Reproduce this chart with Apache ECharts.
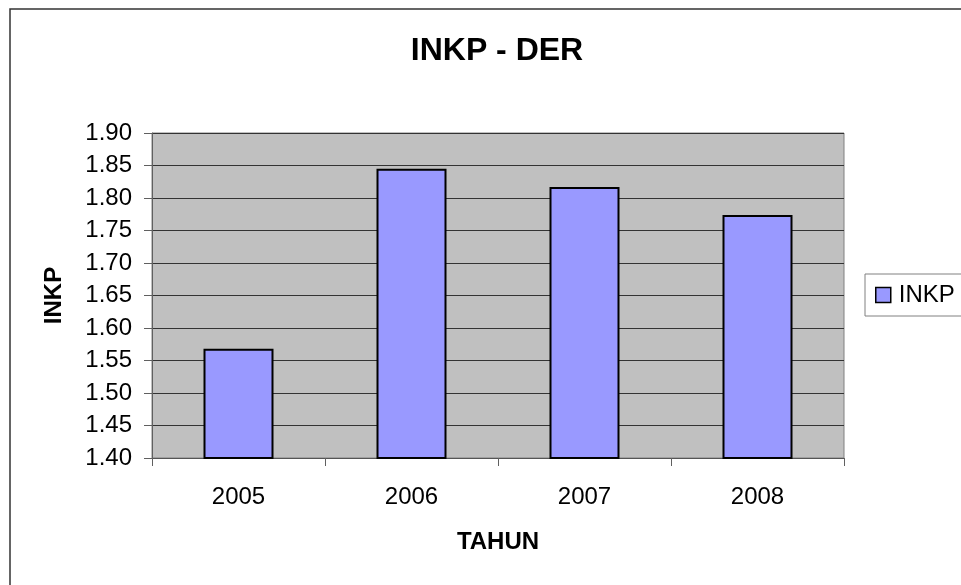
<!DOCTYPE html>
<html>
<head>
<meta charset="utf-8">
<title>INKP - DER</title>
<script src="https://cdn.jsdelivr.net/npm/echarts@6/dist/echarts.min.js"></script>
<style>
    html, body { margin: 0; padding: 0; background: #fff; }
    #chart { width: 961px; height: 585px; }
</style>
</head>
<body>
<div id="chart"></div>
<script>
var years = ['2005', '2006', '2007', '2008'];
var inkpValues = [1.568, 1.845, 1.817, 1.774];
var seriesName = 'INKP';

var font = '"Liberation Sans", Arial, sans-serif';

var chart = echarts.init(document.getElementById('chart'));

var option = {
    animation: false,
    backgroundColor: '#fff',
    textStyle: { fontFamily: font },
    title: {
        text: 'INKP - DER',
        left: 492,
        top: 30,
        textAlign: 'center',
        textStyle: { fontFamily: font, fontSize: 32, fontWeight: 'bold', color: '#000' }
    },
    graphic: [{
        type: 'rect',
        shape: { x: 10, y: 9, width: 1000, height: 1000 },
        style: { fill: 'none', stroke: '#333', lineWidth: 1.5 },
        silent: true
    }],
    legend: {
        data: [seriesName],
        left: 865,
        top: 274,
        orient: 'vertical',
        padding: [9, 12, 9, 10],
        borderColor: '#808080',
        borderWidth: 1,
        itemWidth: 15,
        itemHeight: 15,
        icon: 'rect',
        itemStyle: { borderColor: '#000', borderWidth: 1.5 },
        textStyle: { fontFamily: font, fontSize: 24, color: '#000', padding: [0, 0, 0, 3] }
    },
    grid: {
        left: 152,
        right: 117,
        top: 133,
        bottom: 127,
        show: true,
        backgroundColor: '#C0C0C0',
        borderColor: '#808080',
        borderWidth: 1
    },
    xAxis: {
        type: 'category',
        data: years,
        name: 'TAHUN',
        nameLocation: 'middle',
        nameGap: 72,
        nameTextStyle: { fontFamily: font, fontSize: 24, fontWeight: 'bold', color: '#000' },
        axisLine: { lineStyle: { color: '#555', width: 1 } },
        axisTick: { show: true, length: 8, lineStyle: { color: '#606060' } },
        axisLabel: { fontFamily: font, fontSize: 24, color: '#000', margin: 27 }
    },
    yAxis: {
        type: 'value',
        min: 1.4,
        max: 1.9,
        interval: 0.05,
        name: 'INKP',
        nameLocation: 'middle',
        nameGap: 86,
        nameTextStyle: { fontFamily: font, fontSize: 24, fontWeight: 'bold', color: '#000' },
        axisLine: { show: true, lineStyle: { color: '#606060', width: 1 } },
        axisTick: { show: true, length: 8, lineStyle: { color: '#606060' } },
        axisLabel: {
            fontFamily: font, fontSize: 24, color: '#000', margin: 20,
            formatter: function (v) { return v.toFixed(2); }
        },
        splitLine: { show: true, lineStyle: { color: '#333', width: 1 } }
    },
    series: [{
        name: seriesName,
        type: 'bar',
        data: inkpValues,
        barWidth: 70,
        itemStyle: { color: '#9999FF', borderColor: '#000', borderWidth: 2 }
    }]
};

chart.setOption(option);
</script>
</body>
</html>
